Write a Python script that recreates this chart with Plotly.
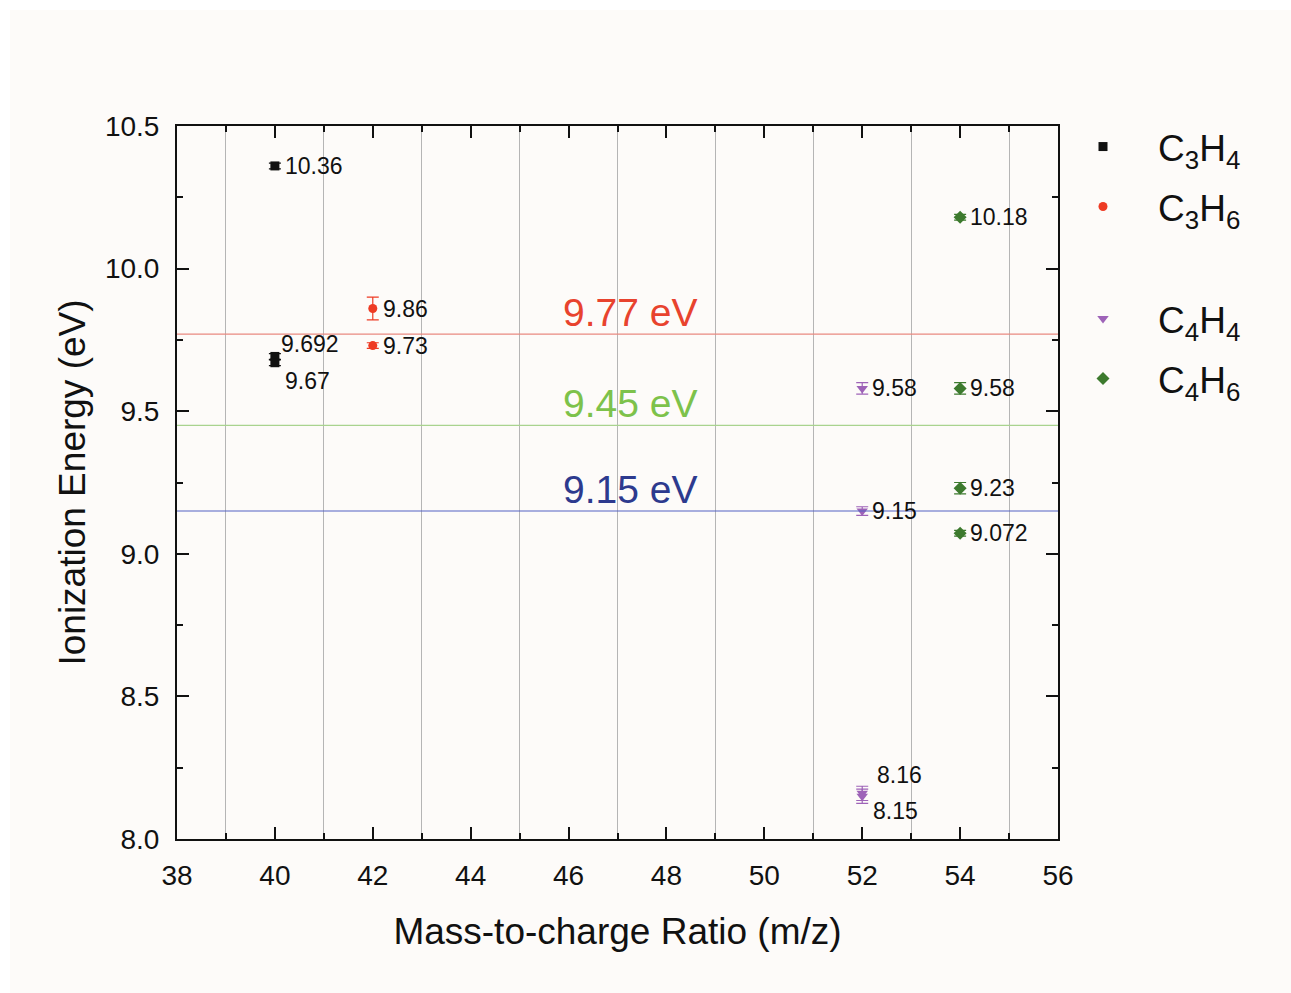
import plotly.graph_objects as go

# ---- data ----
c3h4_x = [40, 40, 40]
c3h4_y = [10.36, 9.692, 9.67]
c3h4_err = [0.01, 0.01, 0.01]
c3h4_lbl = ["10.36", "9.692", "9.67"]

c3h6_x = [42, 42]
c3h6_y = [9.86, 9.73]
c3h6_err = [0.04, 0.01]
c3h6_lbl = ["9.86", "9.73"]

c4h4_x = [52, 52, 52, 52]
c4h4_y = [9.58, 9.15, 8.16, 8.15]
c4h4_err = [0.02, 0.015, 0.025, 0.025]
c4h4_lbl = ["9.58", "9.15", "8.16", "8.15"]

c4h6_x = [54, 54, 54, 54]
c4h6_y = [10.18, 9.58, 9.23, 9.072]
c4h6_err = [0.01, 0.02, 0.02, 0.01]
c4h6_lbl = ["10.18", "9.58", "9.23", "9.072"]

ref_energies = [9.77, 9.45, 9.15]
ref_labels = ["9.77 eV", "9.45 eV", "9.15 eV"]
ref_line_colors = ["#e98a80", "#a9d38f", "#5563c4"]
ref_text_colors = ["#e8432e", "#7dc24b", "#2d3a8e"]

FONT = "Liberation Sans, Arial, sans-serif"
BG = "#fdfbf9"

# plot area in pixels (for layout placement only)
L, R, T, B = 177, 233, 126, 154
W, H = 1291, 993
PW, PH = W - L - R, H - T - B


def py2paper(py):
    return (H - B - py) / PH


def px2paper(px):
    return (px - L) / PW


series = [
    ("C<sub>3</sub>H<sub>4</sub>", c3h4_x, c3h4_y, c3h4_err, "square", "#111111", 9, "legend", 147),
    ("C<sub>3</sub>H<sub>6</sub>", c3h6_x, c3h6_y, c3h6_err, "circle", "#ee3b24", 9, "legend2", 207),
    ("C<sub>4</sub>H<sub>4</sub>", c4h4_x, c4h4_y, c4h4_err, "triangle-down", "#9e63b8", 10, "legend3", 319),
    ("C<sub>4</sub>H<sub>6</sub>", c4h6_x, c4h6_y, c4h6_err, "diamond", "#3d7a2e", 10, "legend4", 379),
]

fig = go.Figure()
legend_layouts = {}
for name, xs, ys, es, sym, col, sz, lg, ly in series:
    fig.add_trace(go.Scatter(
        x=xs, y=ys, mode="markers", name=name, legend=lg,
        marker=dict(symbol=sym, color=col, size=sz),
        error_y=dict(type="data", array=es, visible=True, color=col, thickness=1.2, width=6),
    ))
    legend_layouts[lg] = dict(
        x=px2paper(1048), y=py2paper(ly), xanchor="left", yanchor="middle",
        font=dict(family=FONT, size=37, color="#111111"),
        bgcolor="rgba(0,0,0,0)", itemwidth=100,
    )

# point labels
label_shift = {"9.692": (4, 12), "9.67": (8, -18), "8.16": (13, 18), "8.15": (9, -15)}
for xs, ys, lbls in [(c3h4_x, c3h4_y, c3h4_lbl), (c3h6_x, c3h6_y, c3h6_lbl),
                     (c4h4_x, c4h4_y, c4h4_lbl), (c4h6_x, c4h6_y, c4h6_lbl)]:
    for xv, yv, t in zip(xs, ys, lbls):
        dx, dy = label_shift.get(t, (8, 0))
        fig.add_annotation(x=xv, y=yv, text=t, showarrow=False, xanchor="left", yanchor="middle",
                           xshift=dx, yshift=dy, font=dict(family=FONT, size=23, color="#111111"))

# reference lines
for e, lbl, lc, tc in zip(ref_energies, ref_labels, ref_line_colors, ref_text_colors):
    fig.add_shape(type="line", xref="paper", x0=0, x1=1, yref="y", y0=e, y1=e,
                  line=dict(color=lc, width=1.2))
    fig.add_annotation(x=47.26, y=e, text=lbl, showarrow=False, xanchor="center", yanchor="middle",
                       yshift=22, font=dict(family=FONT, size=39, color=tc))

# background panel
fig.add_shape(type="rect", xref="paper", yref="paper",
              x0=px2paper(10), x1=px2paper(1291),
              y0=py2paper(993), y1=py2paper(10),
              fillcolor=BG, line=dict(width=0), layer="below")

fig.update_layout(
    width=W, height=H,
    margin=dict(l=L, r=R, t=T, b=B),
    paper_bgcolor="white", plot_bgcolor=BG,
    font=dict(family=FONT, color="#111111"),
    showlegend=True,
    **legend_layouts,
)

fig.update_xaxes(
    range=[38, 56], dtick=2, tick0=38, showgrid=False,
    ticks="inside", ticklen=12, tickwidth=1.5, tickcolor="#111111",
    showline=True, linecolor="#111111", linewidth=2, mirror="allticks",
    tickfont=dict(family=FONT, size=28, color="#111111"), ticklabelstandoff=10,
    minor=dict(dtick=1, tick0=38, ticks="inside", ticklen=6, tickwidth=1.5, tickcolor="#111111",
               showgrid=True, gridcolor="#b5b5b5", gridwidth=1),
    zeroline=False,
    title=dict(text="Mass-to-charge Ratio (m/z)", font=dict(family=FONT, size=37, color="#111111"), standoff=29),
)
fig.update_yaxes(
    range=[8.0, 10.5], dtick=0.5, tick0=8.0, tickformat=".1f", showgrid=False,
    ticks="inside", ticklen=12, tickwidth=1.5, tickcolor="#111111",
    showline=True, linecolor="#111111", linewidth=2, mirror="allticks",
    tickfont=dict(family=FONT, size=28, color="#111111"), ticklabelstandoff=10,
    minor=dict(dtick=0.25, tick0=8.0, ticks="inside", ticklen=6, tickwidth=1.5, tickcolor="#111111",
               showgrid=False),
    zeroline=False,
    title=dict(text="Ionization Energy (eV)", font=dict(family=FONT, size=37, color="#111111"), standoff=8),
)

fig.write_html("out.html")
